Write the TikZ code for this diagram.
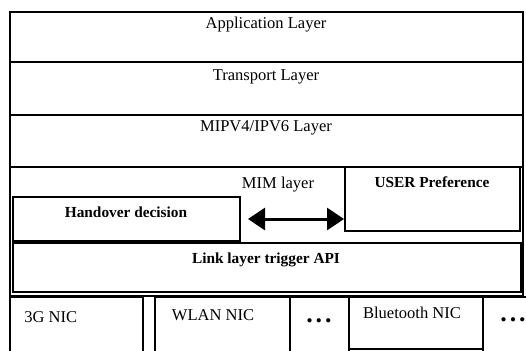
\documentclass[tikz,border=0pt]{standalone}
\usepackage{fontspec}
\setmainfont{Liberation Serif}
\usepackage{tikz}
\usetikzlibrary{arrows.meta, positioning, fit, calc}

\begin{document}
\begin{tikzpicture}[
    x=0.5bp, y=-0.5bp,
    box/.style={draw, line width=1bp, inner sep=0pt},
    lbl/.style={font=\fontsize{8.3}{10}\selectfont, inner sep=1pt},
    blbl/.style={font=\fontsize{7.7}{9}\selectfont\bfseries, inner sep=1pt},
    dots/.style={font=\fontsize{13}{15}\selectfont\bfseries, inner sep=0pt},
    arrow/.style={line width=1.5bp, {Triangle[length=8.5bp,width=11bp]}-{Triangle[length=8.5bp,width=11bp]}},
]
    \useasboundingbox (0,0) rectangle (526,350);

    % protocol stack
    \node[box, fit={(10,12) (523,62)}] (app) {};
    \node[box, fit={(10,62) (523,115)}] (tr) {};
    \node[box, fit={(10,115) (523,167)}] (ip) {};
    \node[box, fit={(10,167) (523,296)}] (mim) {};

    \node[lbl] (appL) at (266,25) {Application Layer};
    \node[lbl] (trL) at (266,77) {Transport Layer};
    \node[lbl] (ipL) at (266,128) {MIPV4/IPV6 Layer};
    \node[lbl] (mimL) at (278,185) {MIM layer};

    % MIM internals
    \node[box, fit={(345,167) (520,231)}] (user) {};
    \node[box, fit={(13,197) (240,241)}] (hd) {};
    \node[box, fit={(13,243) (521,292)}] (ll) {};

    \node[blbl] (userL) at (432,182) {USER Preference};
    \node[blbl] (hdL) at (126,212) {Handover decision};
    \node[blbl] (llL) at (266,260) {Link layer trigger API};

    \draw[arrow] ([xshift=3.5bp]hd.east) -- (hd.east -| user.west);

    % network interface cards
    \node[box, fit={(10,297) (143,352)}] (nic3g) {};
    \node[box, fit={(155,297) (290,352)}] (wlan) {};
    \node[box, fit={(290,297) (349,352)}] (dA) {};
    \node[box, fit={(349,297) (483,349)}] (bt) {};
    \node[box, fit={(483,297) (530,352)}] (dB) {};

    \node[lbl, anchor=west] (nic3gL) at (22,317) {3G NIC};
    \node[lbl] (wlanL) at (213,315) {WLAN NIC};
    \node[lbl] (btL) at (412,313) {Bluetooth NIC};
    \node[dots] (dotsA) at (319,321) {.\hspace{1.5bp}.\hspace{1.5bp}.};
    \node[dots] (dotsB) at (513,320) {.\hspace{1.5bp}.\hspace{1.5bp}.};
\end{tikzpicture}
\end{document}
